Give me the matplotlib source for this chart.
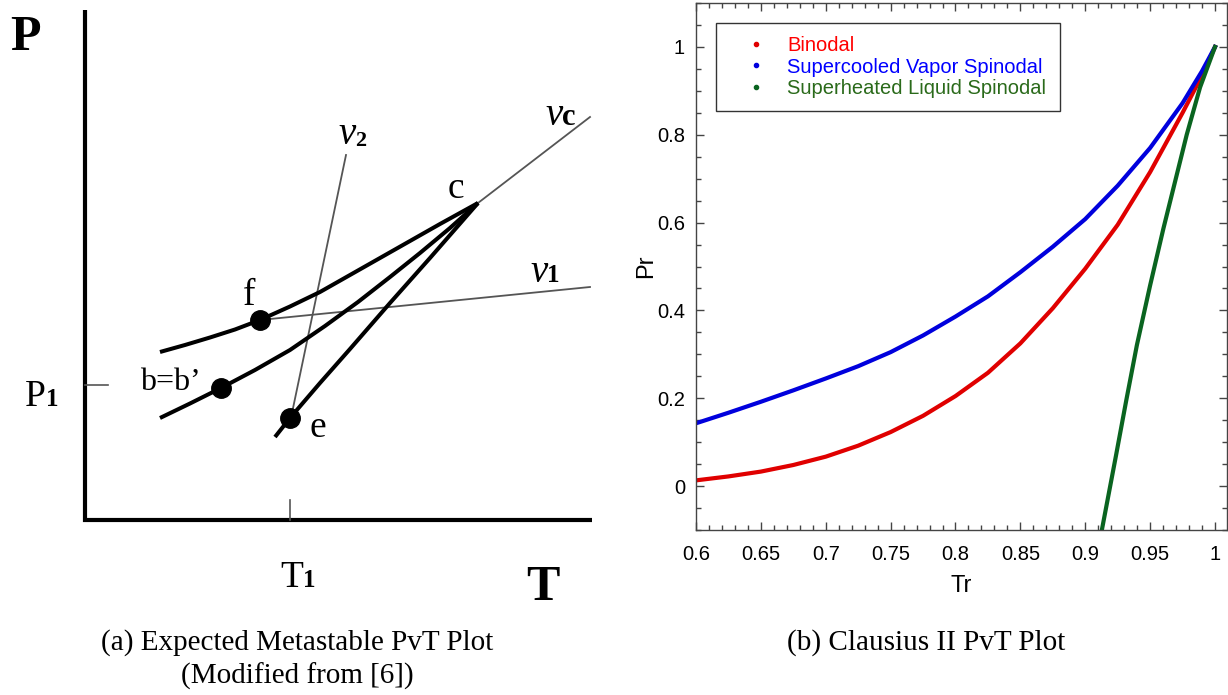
import matplotlib
matplotlib.use("Agg")
import matplotlib.pyplot as plt
from matplotlib.lines import Line2D

# ---- (a) schematic PvT diagram, coordinates ----
pt_c = (3.93, 3.17)
pt_f = (1.75, 2.00)
pt_b = (1.36, 1.32)
pt_e = (2.05, 1.02)
T1 = 2.05
P1 = 1.35

curve_f_T = [0.75, 1.0, 1.25, 1.5, 1.75, 2.05, 2.35, 2.65, 2.95, 3.25, 3.55, 3.93]
curve_f_P = [1.68, 1.75, 1.825, 1.905, 2.00, 2.135, 2.28, 2.45, 2.62, 2.79, 2.96, 3.17]
curve_b_T = [0.75, 1.05, 1.36, 1.70, 2.05, 2.40, 2.73, 3.05, 3.35, 3.65, 3.93]
curve_b_P = [1.02, 1.165, 1.32, 1.50, 1.70, 1.94, 2.18, 2.43, 2.67, 2.92, 3.17]
curve_e_T = [1.90, 2.05, 2.35, 2.65, 3.05, 3.45, 3.93]
curve_e_P = [0.83, 1.02, 1.37, 1.71, 2.17, 2.62, 3.17]

iso_vc_T = [3.93, 5.05]
iso_vc_P = [3.17, 4.03]
iso_v2_T = [2.61, 2.07]
iso_v2_P = [3.65, 1.07]
iso_v1_T = [1.75, 5.05]
iso_v1_P = [2.00, 2.33]

# ---- (b) Clausius II curves ----
red_Tr = [0.6, 0.625, 0.65, 0.675, 0.7, 0.725, 0.75, 0.775, 0.8, 0.825, 0.85,
          0.875, 0.9, 0.925, 0.95, 0.975, 0.99, 1.0]
red_Pr = [0.013, 0.022, 0.033, 0.048, 0.067, 0.092, 0.123, 0.160, 0.205, 0.258, 0.325,
          0.405, 0.495, 0.595, 0.715, 0.850, 0.935, 1.0]
blue_Tr = [0.6, 0.625, 0.65, 0.675, 0.7, 0.725, 0.75, 0.775, 0.8, 0.825, 0.85,
           0.875, 0.9, 0.925, 0.95, 0.975, 0.99, 1.0]
blue_Pr = [0.143, 0.167, 0.192, 0.218, 0.245, 0.273, 0.305, 0.343, 0.386, 0.432, 0.487,
           0.545, 0.608, 0.684, 0.770, 0.872, 0.945, 1.0]
green_Tr = [0.9128, 0.9236, 0.9316, 0.9398, 0.95, 0.9602, 0.9782, 0.9885, 1.0]
green_Pr = [-0.1, 0.068, 0.195, 0.321, 0.457, 0.586, 0.80, 0.908, 1.0]

series = ["Binodal", "Supercooled Vapor Spinodal", "Superheated Liquid Spinodal"]
line_colors = ["#e00000", "#0000dd", "#0a6420"]
text_colors = ["#ff0000", "#0000ff", "#2a6a1a"]

W, H = 1228, 695
fig = plt.figure(figsize=(W / 100, H / 100), dpi=100)

serif = "Liberation Serif"
sans = "Liberation Sans"

# left panel
axl = fig.add_axes([0, (H - 620) / H, 614 / W, 620 / H])
axl.set_xlim(-0.85, 5.29)
axl.set_ylim(-1.0, 5.2)
axl.axis("off")

axl.plot([0, 0, 5.07], [5.1, 0, 0], color="black", lw=3, solid_capstyle="butt",
         solid_joinstyle="miter")
axl.plot([0, 0.23], [P1, P1], color="#555555", lw=1.2)
axl.plot([T1, T1], [0, 0.2], color="#555555", lw=1.2)

thin = dict(color="#555555", lw=1.3)
axl.plot(iso_vc_T, iso_vc_P, **thin)
axl.plot(iso_v2_T, iso_v2_P, **thin)
axl.plot(iso_v1_T, iso_v1_P, **thin)

thick = dict(color="black", lw=2.9, solid_capstyle="butt", solid_joinstyle="round")
axl.plot(curve_f_T, curve_f_P, **thick)
axl.plot(curve_b_T, curve_b_P, **thick)
axl.plot(curve_e_T, curve_e_P, **thick)

for p in (pt_f, pt_b, pt_e):
    axl.plot(*p, "o", color="black", ms=14)


def label(x, y, main, sub=None, size=27, sub_size=18, style="normal", sub_dy=0.0,
          sub_weight="bold"):
    t = axl.text(x, y, main, family=serif, fontsize=size, style=style,
                 ha="left", va="baseline")
    if sub:
        axl.annotate(sub, xy=(1, y - sub_dy), xycoords=(t, "data"), family=serif,
                     fontsize=sub_size, fontweight=sub_weight, ha="left", va="baseline")
    return t


axl.text(-0.60, 4.70, "P", family=serif, fontsize=36, fontweight="bold",
         ha="center", va="baseline")
axl.text(4.58, -0.80, "T", family=serif, fontsize=36, fontweight="bold",
         ha="center", va="baseline")
label(-0.60, 1.14, "P", "1")
label(1.95, -0.67, "T", "1")
label(3.63, 3.22, "c")
label(1.58, 2.15, "f")
label(2.24, 0.83, "e")
axl.text(0.85, 1.30, "b=b\u2019", family=serif, fontsize=23, ha="center", va="baseline")
label(4.60, 3.95, "v", "c", size=28, sub_size=22, style="italic")
label(2.53, 3.76, "v", "2", size=28, sub_size=16, style="italic", sub_dy=0.02)
label(4.45, 2.38, "v", "1", size=28, sub_size=18, style="italic")

# right panel
axr = fig.add_axes([696 / W, (H - 530) / H, (1227 - 696) / W, 527 / H])
axr.plot(red_Tr, red_Pr, color=line_colors[0], lw=3)
axr.plot(blue_Tr, blue_Pr, color=line_colors[1], lw=3)
axr.plot(green_Tr, green_Pr, color=line_colors[2], lw=3)

axr.set_xlim(0.6, 1.00925)
axr.set_ylim(-0.1, 1.1)
axr.set_xticks([0.6, 0.65, 0.7, 0.75, 0.8, 0.85, 0.9, 0.95, 1.0])
axr.set_xticklabels(["0.6", "0.65", "0.7", "0.75", "0.8", "0.85", "0.9", "0.95", "1"])
axr.set_xticks([0.6 + 0.01 * i for i in range(41)], minor=True)
axr.set_yticks([0, 0.2, 0.4, 0.6, 0.8, 1.0])
axr.set_yticklabels(["0", "0.2", "0.4", "0.6", "0.8", "1"])
axr.set_yticks([-0.1 + 0.05 * i for i in range(25)], minor=True)
axr.tick_params(which="both", direction="in", top=True, right=True, color="#444444",
                labelsize=14.5, labelfontfamily=sans)
axr.tick_params(axis="x", which="both", pad=11)
axr.tick_params(axis="y", which="both", pad=8)
axr.tick_params(which="major", length=6, width=1)
axr.tick_params(which="minor", length=3.3, width=1)
for s in axr.spines.values():
    s.set_color("#444444")
    s.set_linewidth(1.0)
axr.set_xlabel("Tr", family=sans, fontsize=17, labelpad=8)
axr.set_ylabel("Pr", family=sans, fontsize=17, labelpad=0)

handles = [Line2D([], [], ls="none", marker="o", ms=3, color=c) for c in line_colors]
leg = axr.legend(handles, series, loc="upper left",
                 bbox_to_anchor=((716 - 696) / 531, (530 - 23) / 527),
                 borderaxespad=0, frameon=True, fancybox=False, edgecolor="black",
                 prop={"family": sans, "size": 14.5}, handlelength=2.7,
                 handletextpad=0.2, labelspacing=0.12, borderpad=0.65)
leg.get_frame().set_linewidth(1.0)
for t, c in zip(leg.get_texts(), text_colors):
    t.set_color(c)

# captions
cap = dict(family=serif, fontsize=21, ha="center", va="center")
fig.text(297 / W, 1 - 643 / H, "(a) Expected Metastable PvT Plot", **cap)
fig.text(297 / W, 1 - 676 / H, "(Modified from [6])", **cap)
fig.text(926 / W, 1 - 643 / H, "(b) Clausius II PvT Plot", **cap)

fig.savefig("out.png", dpi=100)
